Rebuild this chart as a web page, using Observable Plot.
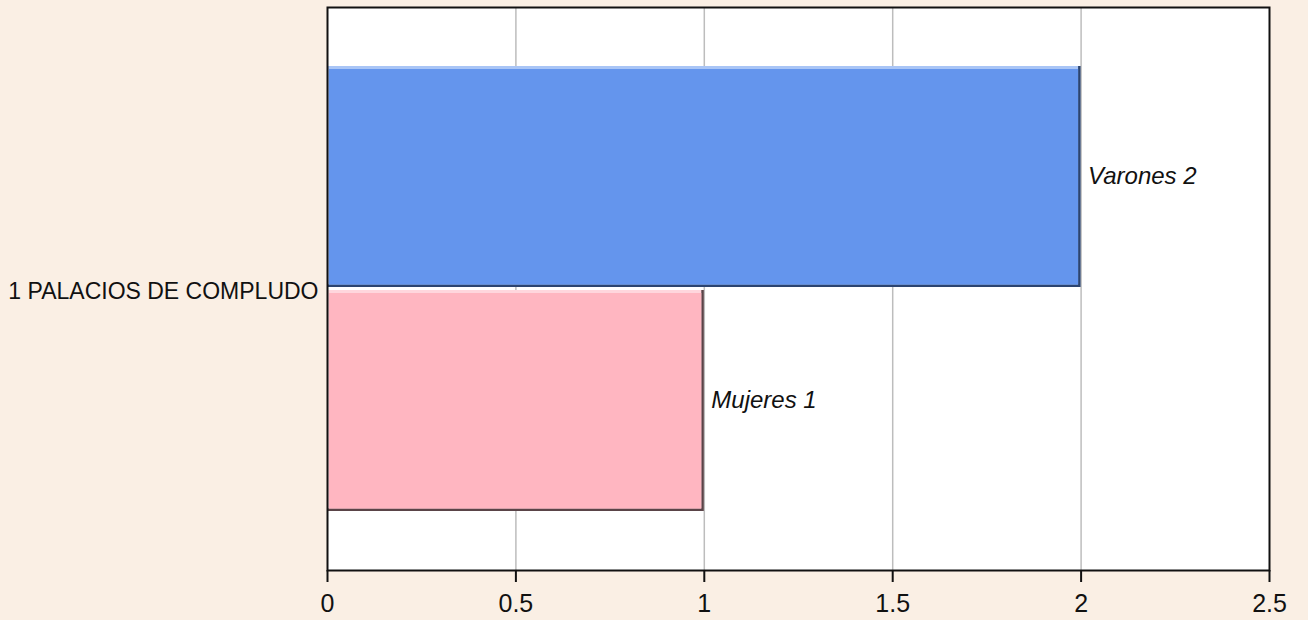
<!DOCTYPE html>
<html>
<head>
<meta charset="utf-8">
<script src="https://cdn.jsdelivr.net/npm/d3@7"></script>
<script src="https://cdn.jsdelivr.net/npm/@observablehq/plot@0.6"></script>
<style>
  html, body { margin: 0; padding: 0; background: #FAEFE4; }
</style>
</head>
<body>
<div id="chart"></div>
<script>
// Data
const categories = ["1 PALACIOS DE COMPLUDO"];
const series = ["Varones", "Mujeres"];
const values = [2, 1];
const xTicks = [0, 0.5, 1, 1.5, 2, 2.5];

// Palette (styles)
const fillColors = {Varones: "#6495ED", Mujeres: "#FFB6C1"};
const darkColors = {Varones: "#2c4470", Mujeres: "#5a4448"};
const lightColors = {Varones: "#a9c5f6", Mujeres: "#ffd6dd"};

const data = series.map((s, i) => ({
  cat: categories[0],
  series: s,
  value: values[i],
  label: `${s} ${values[i]}`
}));

const chart = Plot.plot({
  width: 1308,
  height: 620,
  marginLeft: 327,
  marginRight: 39,
  marginTop: 7,
  marginBottom: 50,
  style: {background: "#FAEFE4", fontFamily: "'Liberation Sans', Arial, sans-serif", color: "#111"},
  x: {domain: [0, 2.5]},
  y: {domain: series, paddingInner: 0.013, paddingOuter: 0.26, axis: null},
  fy: {domain: categories, padding: 0, axis: null},
  marks: [
    Plot.frame({fill: "white"}),
    Plot.gridX({ticks: xTicks.slice(1, -1), stroke: "#bdbdbd", strokeOpacity: 1, strokeWidth: 1.5}),
    Plot.barX(data, {x: "value", y: "series", fy: "cat", fill: d => darkColors[d.series]}),
    Plot.barX(data, {x: "value", y: "series", fy: "cat", fill: d => lightColors[d.series], insetRight: 2.5, insetBottom: 2.5}),
    Plot.barX(data, {x: "value", y: "series", fy: "cat", fill: d => fillColors[d.series], insetRight: 2.5, insetBottom: 2.5, insetTop: 3, insetLeft: 2}),
    Plot.text(data, {x: "value", y: "series", fy: "cat", text: "label", textAnchor: "start", dx: 7, dy: -1, fontStyle: "italic", fontSize: 24, fill: "#111"}),
    Plot.frame({stroke: "#111", strokeWidth: 2}),
    Plot.axisFy({anchor: "left", tickSize: 0, tickPadding: 9, dy: 3, label: null, fontSize: 23, fill: "#111"}),
    Plot.axisX({ticks: xTicks, tickSize: 12, tickPadding: 12, tickFormat: d => String(d), label: null, fontSize: 25, stroke: "#111", strokeWidth: 2, fill: "#111"})
  ]
});

document.getElementById("chart").appendChild(chart);
</script>
</body>
</html>
